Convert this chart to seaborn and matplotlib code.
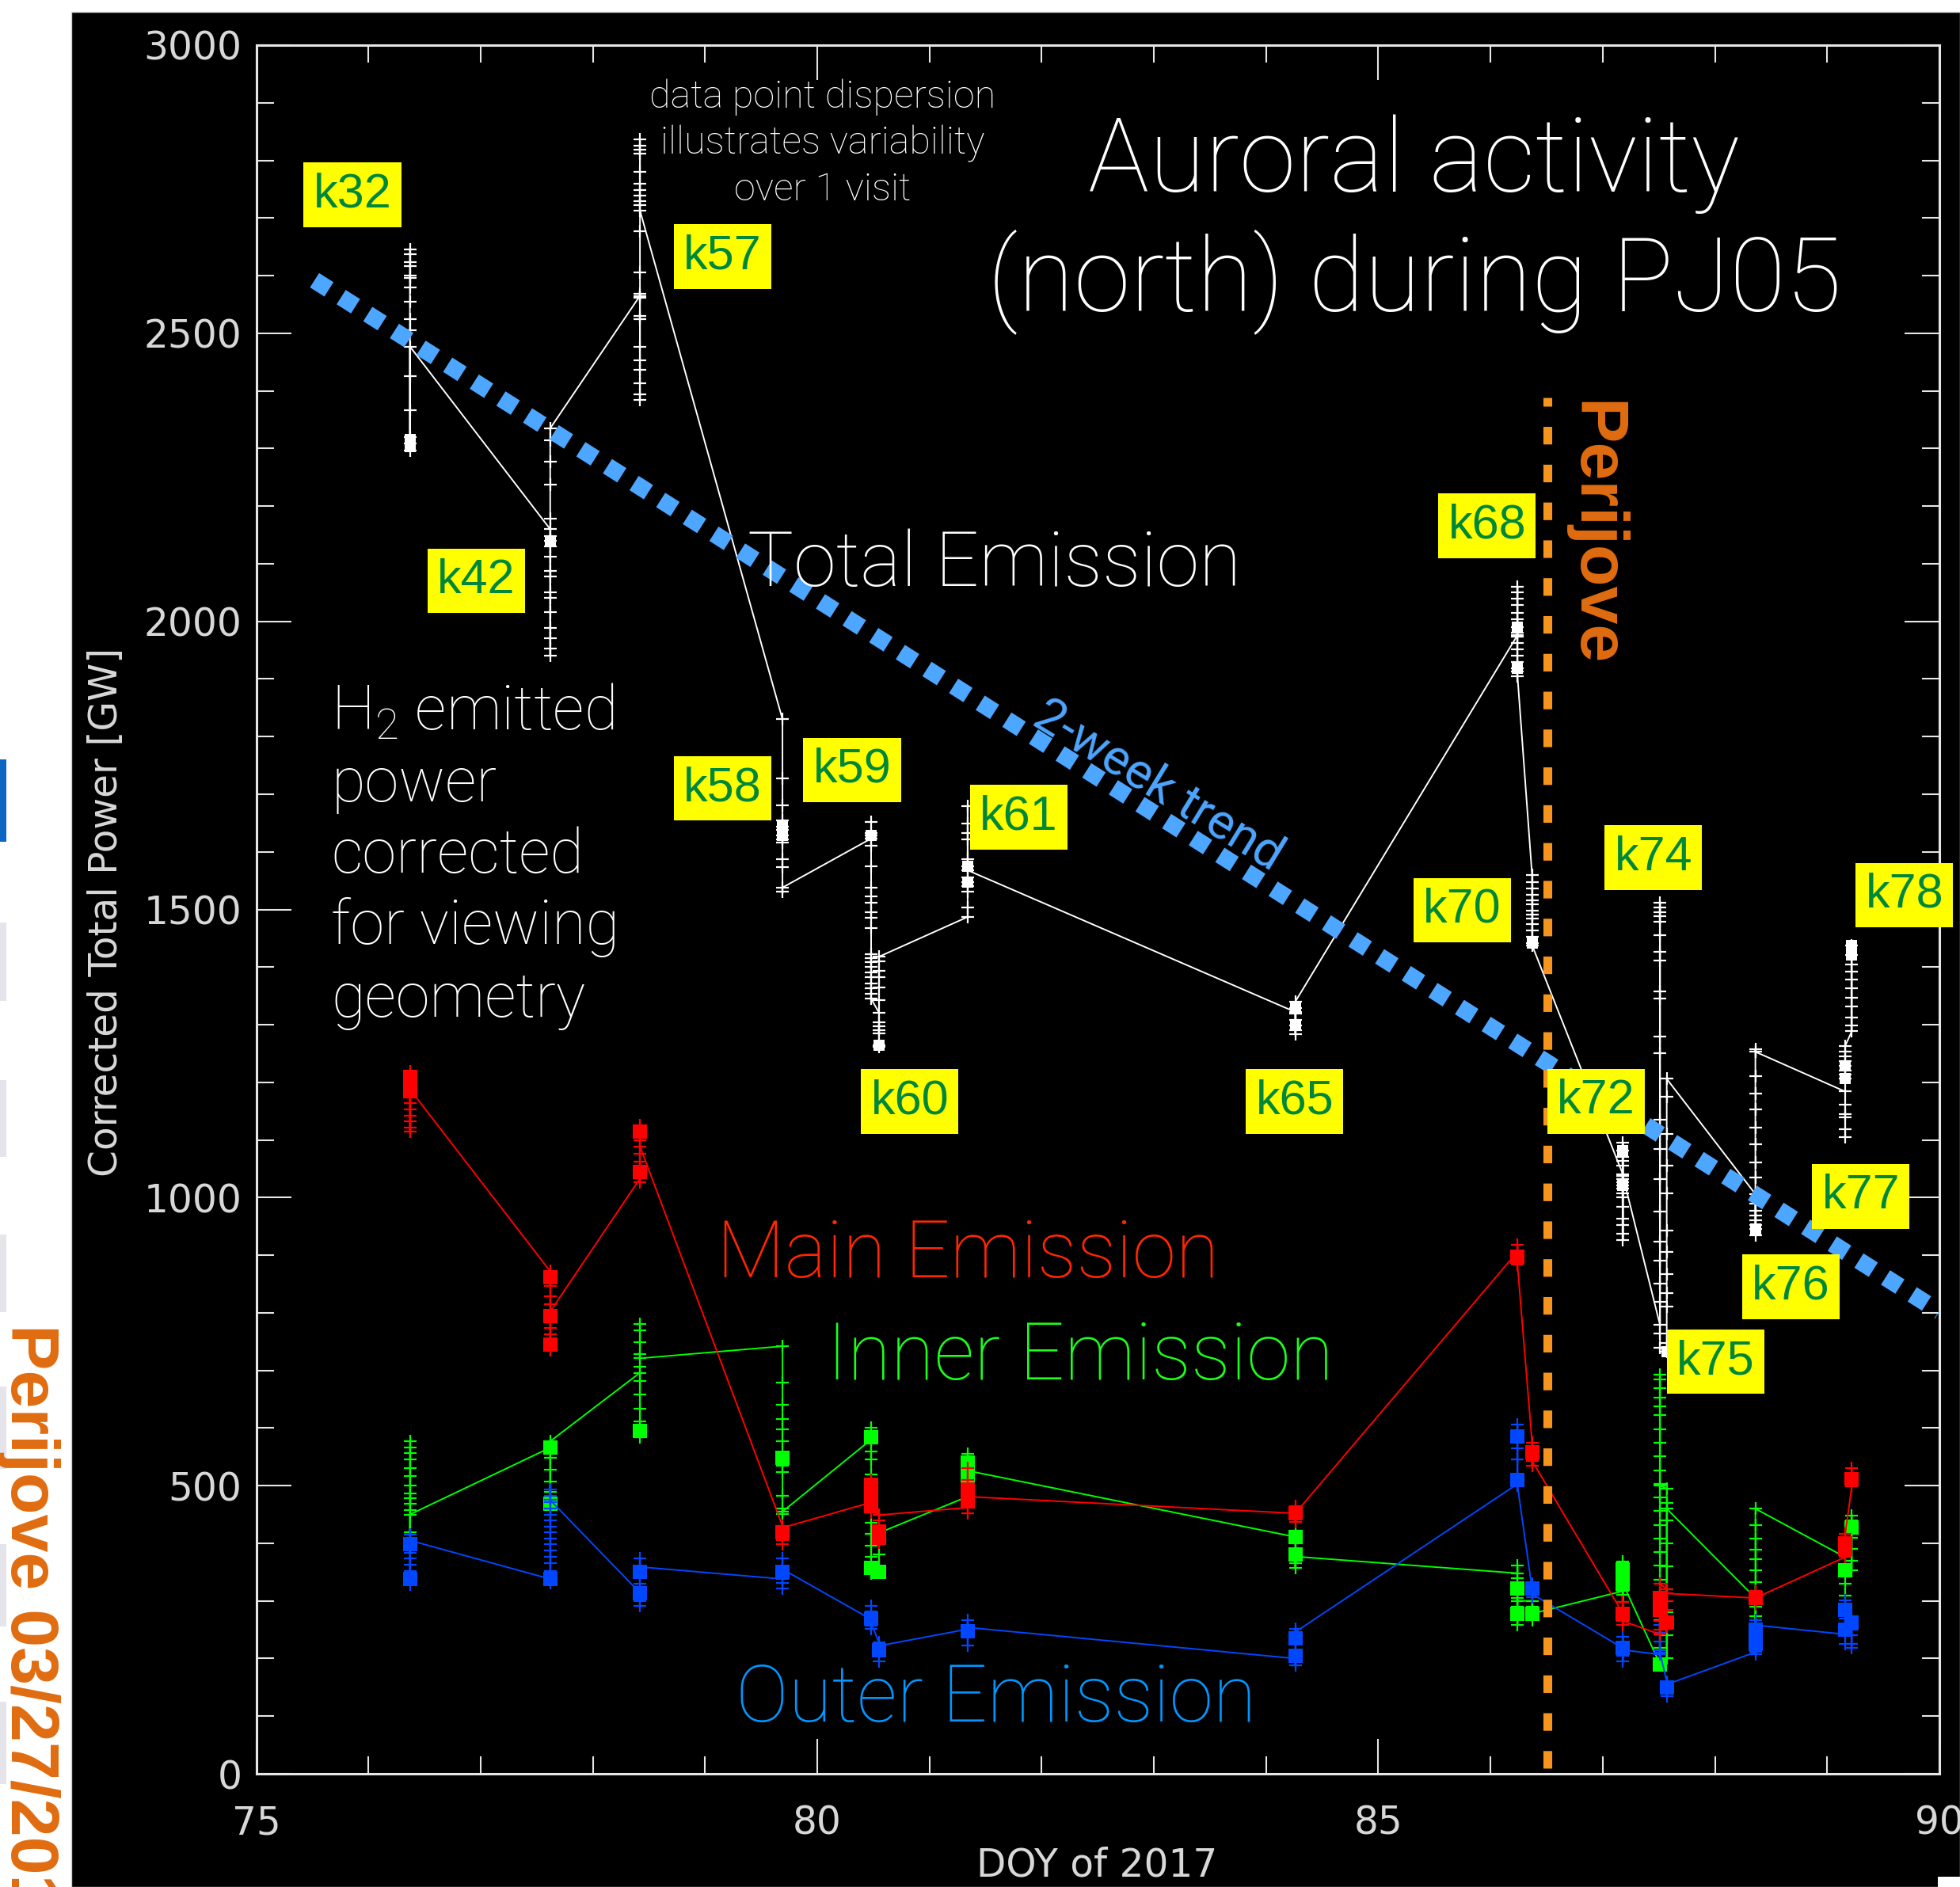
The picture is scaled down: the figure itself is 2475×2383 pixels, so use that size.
import matplotlib
matplotlib.use("Agg")
import matplotlib.pyplot as plt
import numpy as np
import pandas as pd
import seaborn as sns
from matplotlib.patches import Rectangle
from matplotlib.ticker import MultipleLocator

# ---------------- data ----------------
visit_labels = ["k32", "k42", "k57", "k58", "k59", "k60", "k61", "k65",
                "k68", "k70", "k72", "k74", "k75", "k76", "k77", "k78"]
visit_doy = [76.37, 77.62, 78.42, 79.69, 80.48, 80.55, 81.34, 84.26,
             86.24, 86.37, 87.18, 87.51, 87.57, 88.36, 89.16, 89.22]

total_power = [
    [2646, 2637, 2624, 2616, 2600, 2596, 2579, 2555, 2524, 2505, 2425, 2366, 2320, 2309, 2297, 2477],
    [2160, 2148, 2140, 2130, 2112, 2088, 2078, 2050, 2041, 2016, 1988, 1970, 1953, 1940, 2178, 2237, 2277, 2314, 2335],
    [2565, 2561, 2530, 2524, 2477, 2453, 2437, 2413, 2394, 2385, 2569, 2606, 2677, 2837, 2825, 2819, 2812, 2780, 2759, 2748, 2739, 2729, 2722, 2713],
    [1830, 1727, 1681, 1654, 1644, 1638, 1628, 1621, 1616, 1587, 1573, 1531, 1538],
    [1623, 1652, 1633, 1628, 1611, 1575, 1538, 1522, 1512, 1495, 1485, 1468, 1423, 1416, 1409, 1401, 1391, 1382, 1372, 1363, 1353, 1345],
    [1321, 1304, 1297, 1290, 1285, 1265, 1261, 1343, 1365, 1382, 1394, 1410, 1418],
    [1487, 1504, 1531, 1541, 1548, 1555, 1587, 1621, 1633, 1649, 1680, 1575, 1568],
    [1322, 1329, 1319, 1308, 1298, 1290, 1283, 1340],
    [1976, 1980, 1990, 2004, 2015, 2029, 2039, 2050, 2060, 1973, 1962, 1951, 1941, 1930, 1919, 1913, 1905],
    [1560, 1548, 1537, 1526, 1516, 1509, 1498, 1491, 1484, 1474, 1463, 1453, 1442, 1438],
    [1040, 1095, 1081, 1070, 1063, 1055, 1037, 1032, 1026, 1021, 1016, 1008, 1000, 984, 963, 953, 937, 926, 1037],
    [779, 764, 819, 851, 890, 924, 976, 1032, 1084, 1135, 1250, 1280, 1345, 1358, 1411, 1427, 1456, 1479, 1488, 1495, 1503, 1511, 740],
    [732, 748, 811, 834, 867, 906, 943, 1008, 1056, 1111, 1175, 1206],
    [1006, 990, 977, 969, 961, 953, 945, 935, 1035, 1061, 1093, 1122, 1153, 1180, 1211, 1258, 1253],
    [1184, 1161, 1145, 1139, 1118, 1105, 1206, 1214, 1221, 1229, 1237, 1245, 1253, 1263],
    [1289, 1299, 1313, 1331, 1347, 1363, 1379, 1392, 1405, 1421, 1437],
]
main_power = [
    [1219, 1209, 1196, 1185, 1174, 1164, 1153, 1142, 1132, 1121, 1114, 1188],
    [872, 861, 847, 829, 815, 784, 774, 763, 745, 735, 795, 802],
    [1033, 1044, 1026, 1062, 1076, 1100, 1114, 1125, 1089],
    [430, 419, 405, 398, 427],
    [471, 483, 502, 510, 495, 470, 454, 460],
    [449, 440, 430, 420, 410, 401, 449],
    [462, 452, 473, 483, 493, 510, 531, 481],
    [452, 464, 445, 437, 452],
    [906, 918, 898, 890, 883],
    [575, 558, 545, 535, 543],
    [278, 298, 285, 270, 258, 265],
    [242, 250, 265, 280, 295, 310, 330],
    [320, 300, 285, 268, 255, 313],
    [305, 318, 300, 294, 305],
    [376, 390, 400, 410, 416],
    [499, 511, 520, 531],
]
inner_power = [
    [577, 566, 556, 545, 531, 517, 500, 486, 478, 468, 457, 419, 450],
    [566, 549, 528, 507, 489, 468, 461, 570, 577],
    [696, 682, 658, 633, 612, 595, 584, 707, 728, 749, 770, 781, 721],
    [742, 679, 640, 616, 598, 577, 556, 549, 535, 524, 482, 461, 451, 455],
    [580, 584, 600, 560, 546, 519, 493, 435, 416, 396, 377, 357, 348],
    [350, 360, 380, 400, 418],
    [481, 473, 498, 510, 533, 548, 555, 522, 526],
    [411, 422, 400, 390, 377, 365, 357, 377],
    [348, 361, 340, 321, 305, 290, 278, 268, 258, 300],
    [300, 290, 278, 266, 278],
    [317, 368, 355, 340, 330, 310, 298, 330],
    [190, 195, 219, 242, 266, 290, 313, 337, 361, 385, 408, 432, 456, 480, 503, 527, 551, 575, 598, 622, 638, 653, 669, 685, 693, 500],
    [495, 470, 440, 400, 360, 320, 280, 240, 200, 460],
    [305, 290, 274, 266, 309, 333, 353, 373, 389, 408, 432, 460],
    [376, 385, 353, 330, 309, 353],
    [353, 370, 390, 410, 428, 440, 448],
]
outer_power = [
    [415, 398, 384, 374, 363, 352, 338, 328, 405],
    [338, 331, 342, 352, 366, 377, 387, 398, 408, 419, 429, 440, 450, 461, 471, 482, 493, 475],
    [314, 300, 292, 330, 345, 360, 374, 359],
    [338, 374, 360, 345, 331, 321, 355],
    [268, 282, 292, 270, 257, 251, 262],
    [228, 215, 205, 195, 222],
    [251, 266, 259, 248, 237, 222, 254],
    [200, 188, 195, 210, 225, 240, 251, 246],
    [503, 520, 545, 565, 580, 595, 606, 500],
    [321, 330, 315, 306, 312],
    [218, 238, 225, 205, 195, 215],
    [207, 215, 230, 245, 258, 210],
    [160, 148, 135, 155],
    [211, 207, 220, 235, 250, 266, 258],
    [242, 255, 270, 285, 301, 290, 260, 226, 250],
    [250, 274, 260, 240, 225, 218],
]
# filled-square (overlapping) points per visit
total_sq = [[2315, 2303], [2140], [], [1644, 1628], [1628], [1265], [1575, 1548], [1329, 1298],
            [1990, 1919], [1442], [1081, 1021], [], [732], [945], [1229, 1206], [1437, 1421]]
main_sq = [[1209, 1185], [861, 795, 745], [1114, 1044], [419], [502, 483, 465], [420, 410], [493, 473], [452],
           [898], [558], [278], [305, 285], [262], [305], [400, 390], [511]]
inner_sq = [[], [566, 468], [595], [549], [584, 357], [350], [540, 515], [411, 380],
            [321, 278], [278], [355, 330], [190], [], [305], [353], [428]]
outer_sq = [[398, 338], [338], [350, 314], [350], [270], [215], [248], [235, 205],
            [585, 510], [321], [218], [], [150], [250, 225], [285, 250], [262]]

trend_doy = [75.52, 90.0]
trend_power = [2592, 802]
perijove_doy = 86.51
perijove_span = [10, 2388]

label_doy = [75.857, 76.96, 79.154, 79.154, 80.31, 80.824, 81.793, 84.254,
             85.97, 85.746, 86.938, 87.45, 88.007, 88.675, 89.30, 89.688]
label_power = [2740, 2070, 2633, 1710, 1742, 1167, 1660, 1167,
               2166, 1499, 1167, 1590, 715, 845, 1002, 1525]


def build(series):
    rows = []
    for lab, d, vals in zip(visit_labels, visit_doy, series):
        for v in vals:
            rows.append((lab, d, v))
    return pd.DataFrame(rows, columns=["visit", "doy", "power"])


# ---------------- style ----------------
sns.set_theme(style="dark", rc={"axes.facecolor": "black", "figure.facecolor": "white"})
plt.rcParams["font.family"] = ["Roboto", "DejaVu Sans"]
TICKFONT = ["Liberation Sans Narrow", "DejaVu Sans"]

W, H = 2475, 2383
fig = plt.figure(figsize=(W / 100, H / 100), dpi=100)
fig.patch.set_facecolor("white")
# black slide area
fig.patches.append(Rectangle((90 / W, 0), 1 - 90 / W, 1 - 15 / H, transform=fig.transFigure,
                             facecolor="black", edgecolor="#cfcfcf", linewidth=1, zorder=-5))
# side bars of slide strip
fig.patches.append(Rectangle((0, 1 - 1063 / H), 8 / W, 104 / H, transform=fig.transFigure,
                             facecolor="#0a66c2", edgecolor="none", zorder=-5))
for y0, y1 in [(1165, 1264), (1364, 1461), (1559, 1657), (1751, 1855), (1950, 2054), (2149, 2253)]:
    fig.patches.append(Rectangle((0, 1 - y1 / H), 8 / W, (y1 - y0) / H, transform=fig.transFigure,
                                 facecolor="#e4e4ea", edgecolor="none", zorder=-5))
fig.patches.append(Rectangle((2447 / W, 0), 28 / W, 13 / H, transform=fig.transFigure,
                             facecolor="white", edgecolor="none", zorder=-4))

ax = fig.add_axes([323.5 / W, 1 - 2240 / H, 2125.5 / W, 2183 / H])
ax.set_facecolor("black")

# ---------------- series ----------------
series = [
    (total_power, total_sq, "white", 2, 110),
    (inner_power, inner_sq, "#00ff00", 3, 150),
    (outer_power, outer_sq, "#0047ff", 4, 150),
    (main_power, main_sq, "#ff0000", 5, 150),
]
for vals, sq, col, z, ssz in series:
    df = build(vals)
    sns.lineplot(data=df, x="doy", y="power", sort=False, estimator=None, ax=ax,
                 color=col, linewidth=1.4, marker="+", markersize=11,
                 markeredgewidth=1.6, markeredgecolor=col, zorder=z, legend=False)
    dsq = build(sq)
    sns.scatterplot(data=dsq, x="doy", y="power", marker="s", s=ssz, color=col,
                    linewidth=0, ax=ax, zorder=z, legend=False)

# 2-week trend
sns.lineplot(x=trend_doy, y=trend_power, ax=ax, color="#4da6ff", linewidth=15.5,
             estimator=None, sort=False, zorder=6, legend=False)
ax.lines[-1].set_linestyle((0, (1, 0.85)))
ax.lines[-1].set_dash_capstyle("butt")

# perijove
sns.lineplot(x=[perijove_doy, perijove_doy], y=perijove_span, ax=ax, color="#f7941d",
             linewidth=8, estimator=None, sort=False, zorder=7, legend=False)
ax.lines[-1].set_linestyle((0, (2.0, 2.3)))
ax.lines[-1].set_dash_capstyle("butt")

# ---------------- axes ----------------
ax.set_xlim(75, 90)
ax.set_ylim(0, 3000)
ax.set_xticks([75, 80, 85, 90])
ax.set_yticks(range(0, 3001, 500))
ax.xaxis.set_minor_locator(MultipleLocator(1))
ax.yaxis.set_minor_locator(MultipleLocator(100))
ax.grid(False)
for s in ax.spines.values():
    s.set_visible(True)
    s.set_color("#e6e6e6")
    s.set_linewidth(2.2)
ax.tick_params(which="major", direction="in", length=31.5, width=1.5, color="#e6e6e6",
               top=True, right=True, bottom=True, left=True, labelsize=35, labelcolor="#d8d8d8")
ax.tick_params(which="minor", direction="in", length=15.8, width=1.5, color="#e6e6e6",
               top=True, right=True, bottom=True, left=True)
ax.tick_params(axis="x", pad=28)
ax.tick_params(axis="y", pad=13)
for lab in ax.get_xticklabels() + ax.get_yticklabels():
    lab.set_family(TICKFONT)

ax.set_xlabel("DOY of 2017", fontsize=35, color="#d8d8d8", family=TICKFONT)
ax.set_ylabel("Corrected Total Power [GW]", fontsize=35, color="#d8d8d8", family=TICKFONT)
ax.xaxis.set_label_coords(0.4994, -0.0531)
ax.xaxis.label.set_va("center")
ax.yaxis.set_label_coords(-0.0892, 0.4984)
ax.yaxis.label.set_va("center")

# ---------------- annotations ----------------
for lab, d, p in zip(visit_labels, label_doy, label_power):
    ax.text(d, p, lab, fontsize=44, color="#00873a", ha="center", va="center",
            family=["Liberation Sans", "DejaVu Sans"], zorder=10,
            bbox=dict(boxstyle="square,pad=0.2", facecolor="#ffff00", edgecolor="none"))

LIGHT = dict(fontweight="light")
REG = dict(fontweight="normal")
ax.text(85.32, 2746, "Auroral activity", fontsize=93, color="white", ha="center", va="baseline", zorder=9, **LIGHT)
ax.text(85.32, 2540, "(north) during PJ05", fontsize=93, color="white", ha="center", va="baseline", zorder=9, **LIGHT)
ax.text(81.58, 2062, "Total Emission", fontsize=70, color="white", ha="center", va="baseline", zorder=9, **LIGHT)
ax.text(81.34, 862, "Main Emission", fontsize=72, color="#ff2600", ha="center", va="baseline", zorder=9, **LIGHT)
ax.text(82.34, 684, "Inner Emission", fontsize=72, color="#1aff1a", ha="center", va="baseline", zorder=9, **LIGHT)
ax.text(81.59, 91, "Outer Emission", fontsize=72, color="#0096ff", ha="center", va="baseline", zorder=9, **LIGHT)
for txt, yb in [("data point dispersion", 2892), ("illustrates variability", 2811), ("over 1 visit", 2731)]:
    ax.text(80.045, yb, txt, fontsize=35, color="white", ha="center", va="baseline", zorder=9, **LIGHT)
for txt, yb in [(r"H$_\mathregular{2}$ emitted", 1812), ("power", 1688), ("corrected", 1564),
                ("for viewing", 1440), ("geometry", 1314)]:
    ax.text(75.668, yb, txt, fontsize=56, color="white", ha="left", va="baseline", zorder=9, **LIGHT)
ax.text(83.04, 1715, "2-week trend", fontsize=45, color="#4da6ff", ha="center", va="center",
        rotation=-31.5, rotation_mode="anchor", zorder=9, **REG)
ax.text(86.915, 2383, "Perijove", fontsize=62, color="#e06c10", fontweight="bold", ha="center", va="top",
        rotation=-90, family=["Liberation Sans", "DejaVu Sans"], zorder=9)

fig.text(36 / W, 1 - 1672 / H, "Perijove 03/27/2017", fontsize=62, color="#e06c10", fontweight="bold",
         ha="center", va="top", rotation=-90, family=["Liberation Sans", "DejaVu Sans"])

fig.savefig("out.png", dpi=100, facecolor=fig.get_facecolor())
